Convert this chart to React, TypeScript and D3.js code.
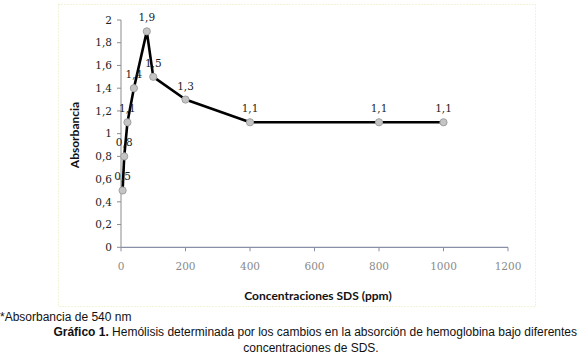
import React from "react";
import * as d3 from "d3";

const concentrations = [5, 10, 20, 40, 80, 100, 200, 400, 800, 1000];
const absorbance = [0.5, 0.8, 1.1, 1.4, 1.9, 1.5, 1.3, 1.1, 1.1, 1.1];
const pointLabels = ["0,5", "0,8", "1,1", "1,4", "1,9", "1,5", "1,3", "1,1", "1,1", "1,1"];
const xTicks = [0, 200, 400, 600, 800, 1000, 1200];
const yTicks = [0, 0.2, 0.4, 0.6, 0.8, 1, 1.2, 1.4, 1.6, 1.8, 2];

export default function App() {
  const W = 578, H = 360;
  const x = d3.scaleLinear().domain([0, 1200]).range([121, 508]);
  const y = d3.scaleLinear().domain([0, 2]).range([247.3, 20]);
  const line = d3.line<number>().x((_, i) => x(concentrations[i])).y((d) => y(d));
  const fmt = (v: number) => String(Math.round(v * 10) / 10).replace(".", ",");
  return (
    <svg width={W} height={H} style={{ position: "absolute", left: 0, top: 0, background: "#fff" }}>
      {/* faint dotted chart border */}
      <rect x={58.5} y={4.5} width={477} height={302} fill="none" stroke="#e8e4b0" strokeDasharray="1,2" strokeWidth={1} />
      {/* y axis */}
      <line x1={x(0)} x2={x(0)} y1={y(2)} y2={y(0)} stroke="#8c8c8c" strokeWidth={1} />
      {yTicks.map((t) => (
        <g key={t}>
          <line x1={x(0) - 4} x2={x(0)} y1={y(t)} y2={y(t)} stroke="#8c8c8c" />
          <text x={112} y={y(t)} dy="0.35em" textAnchor="end" fontFamily="DejaVu Serif, serif" fontSize={10.5} fill="#222">
            {fmt(t)}
          </text>
        </g>
      ))}
      {/* x axis */}
      <line x1={x(0)} x2={x(1200)} y1={y(0)} y2={y(0)} stroke="#8890a8" strokeWidth={1.3} />
      {xTicks.map((t) => (
        <g key={t}>
          <line x1={x(t)} x2={x(t)} y1={y(0)} y2={y(0) + 4} stroke="#8890a8" />
          <text x={x(t)} y={270} textAnchor="middle" fontFamily="DejaVu Serif, serif" fontSize={10.5} fill="#8a8a8a">
            {t}
          </text>
        </g>
      ))}
      {/* series */}
      <path d={line(absorbance) || ""} fill="none" stroke="#000" strokeWidth={2.6} strokeLinejoin="round" />
      {absorbance.map((v, i) => (
        <circle key={i} cx={x(concentrations[i])} cy={y(v)} r={3.6} fill="#c4c4c4" stroke="#a0a0a0" strokeWidth={1} />
      ))}
      {absorbance.map((v, i) => (
        <text key={i} x={x(concentrations[i])} y={y(v) - 10} textAnchor="middle" fontFamily="DejaVu Serif, serif" fontSize={10.5} fill="#222">
          {pointLabels[i]}
        </text>
      ))}
      {/* axis titles */}
      <text transform="translate(79,135) rotate(-90)" textAnchor="middle" fontFamily="Lato, sans-serif" fontWeight="bold" fontSize={12} fill="#111">
        Absorbancia
      </text>
      <text x={318} y={300} textAnchor="middle" fontFamily="Lato, sans-serif" fontWeight="bold" fontSize={12} fill="#111">
        Concentraciones SDS (ppm)
      </text>
      {/* captions */}
      <text x={0} y={321} fontFamily="Liberation Sans, Arial, sans-serif" fontSize={12} fill="#111">
        *Absorbancia de 540 nm
      </text>
      <text x={577} y={336} textAnchor="end" fontFamily="Liberation Sans, Arial, sans-serif" fontSize={12} fill="#111">
        <tspan fontWeight="bold">Gráfico 1.</tspan> Hemólisis determinada por los cambios en la absorción de hemoglobina bajo diferentes
      </text>
      <text x={311} y={352} textAnchor="middle" fontFamily="Liberation Sans, Arial, sans-serif" fontSize={12} fill="#111">
        concentraciones de SDS.
      </text>
    </svg>
  );
}
